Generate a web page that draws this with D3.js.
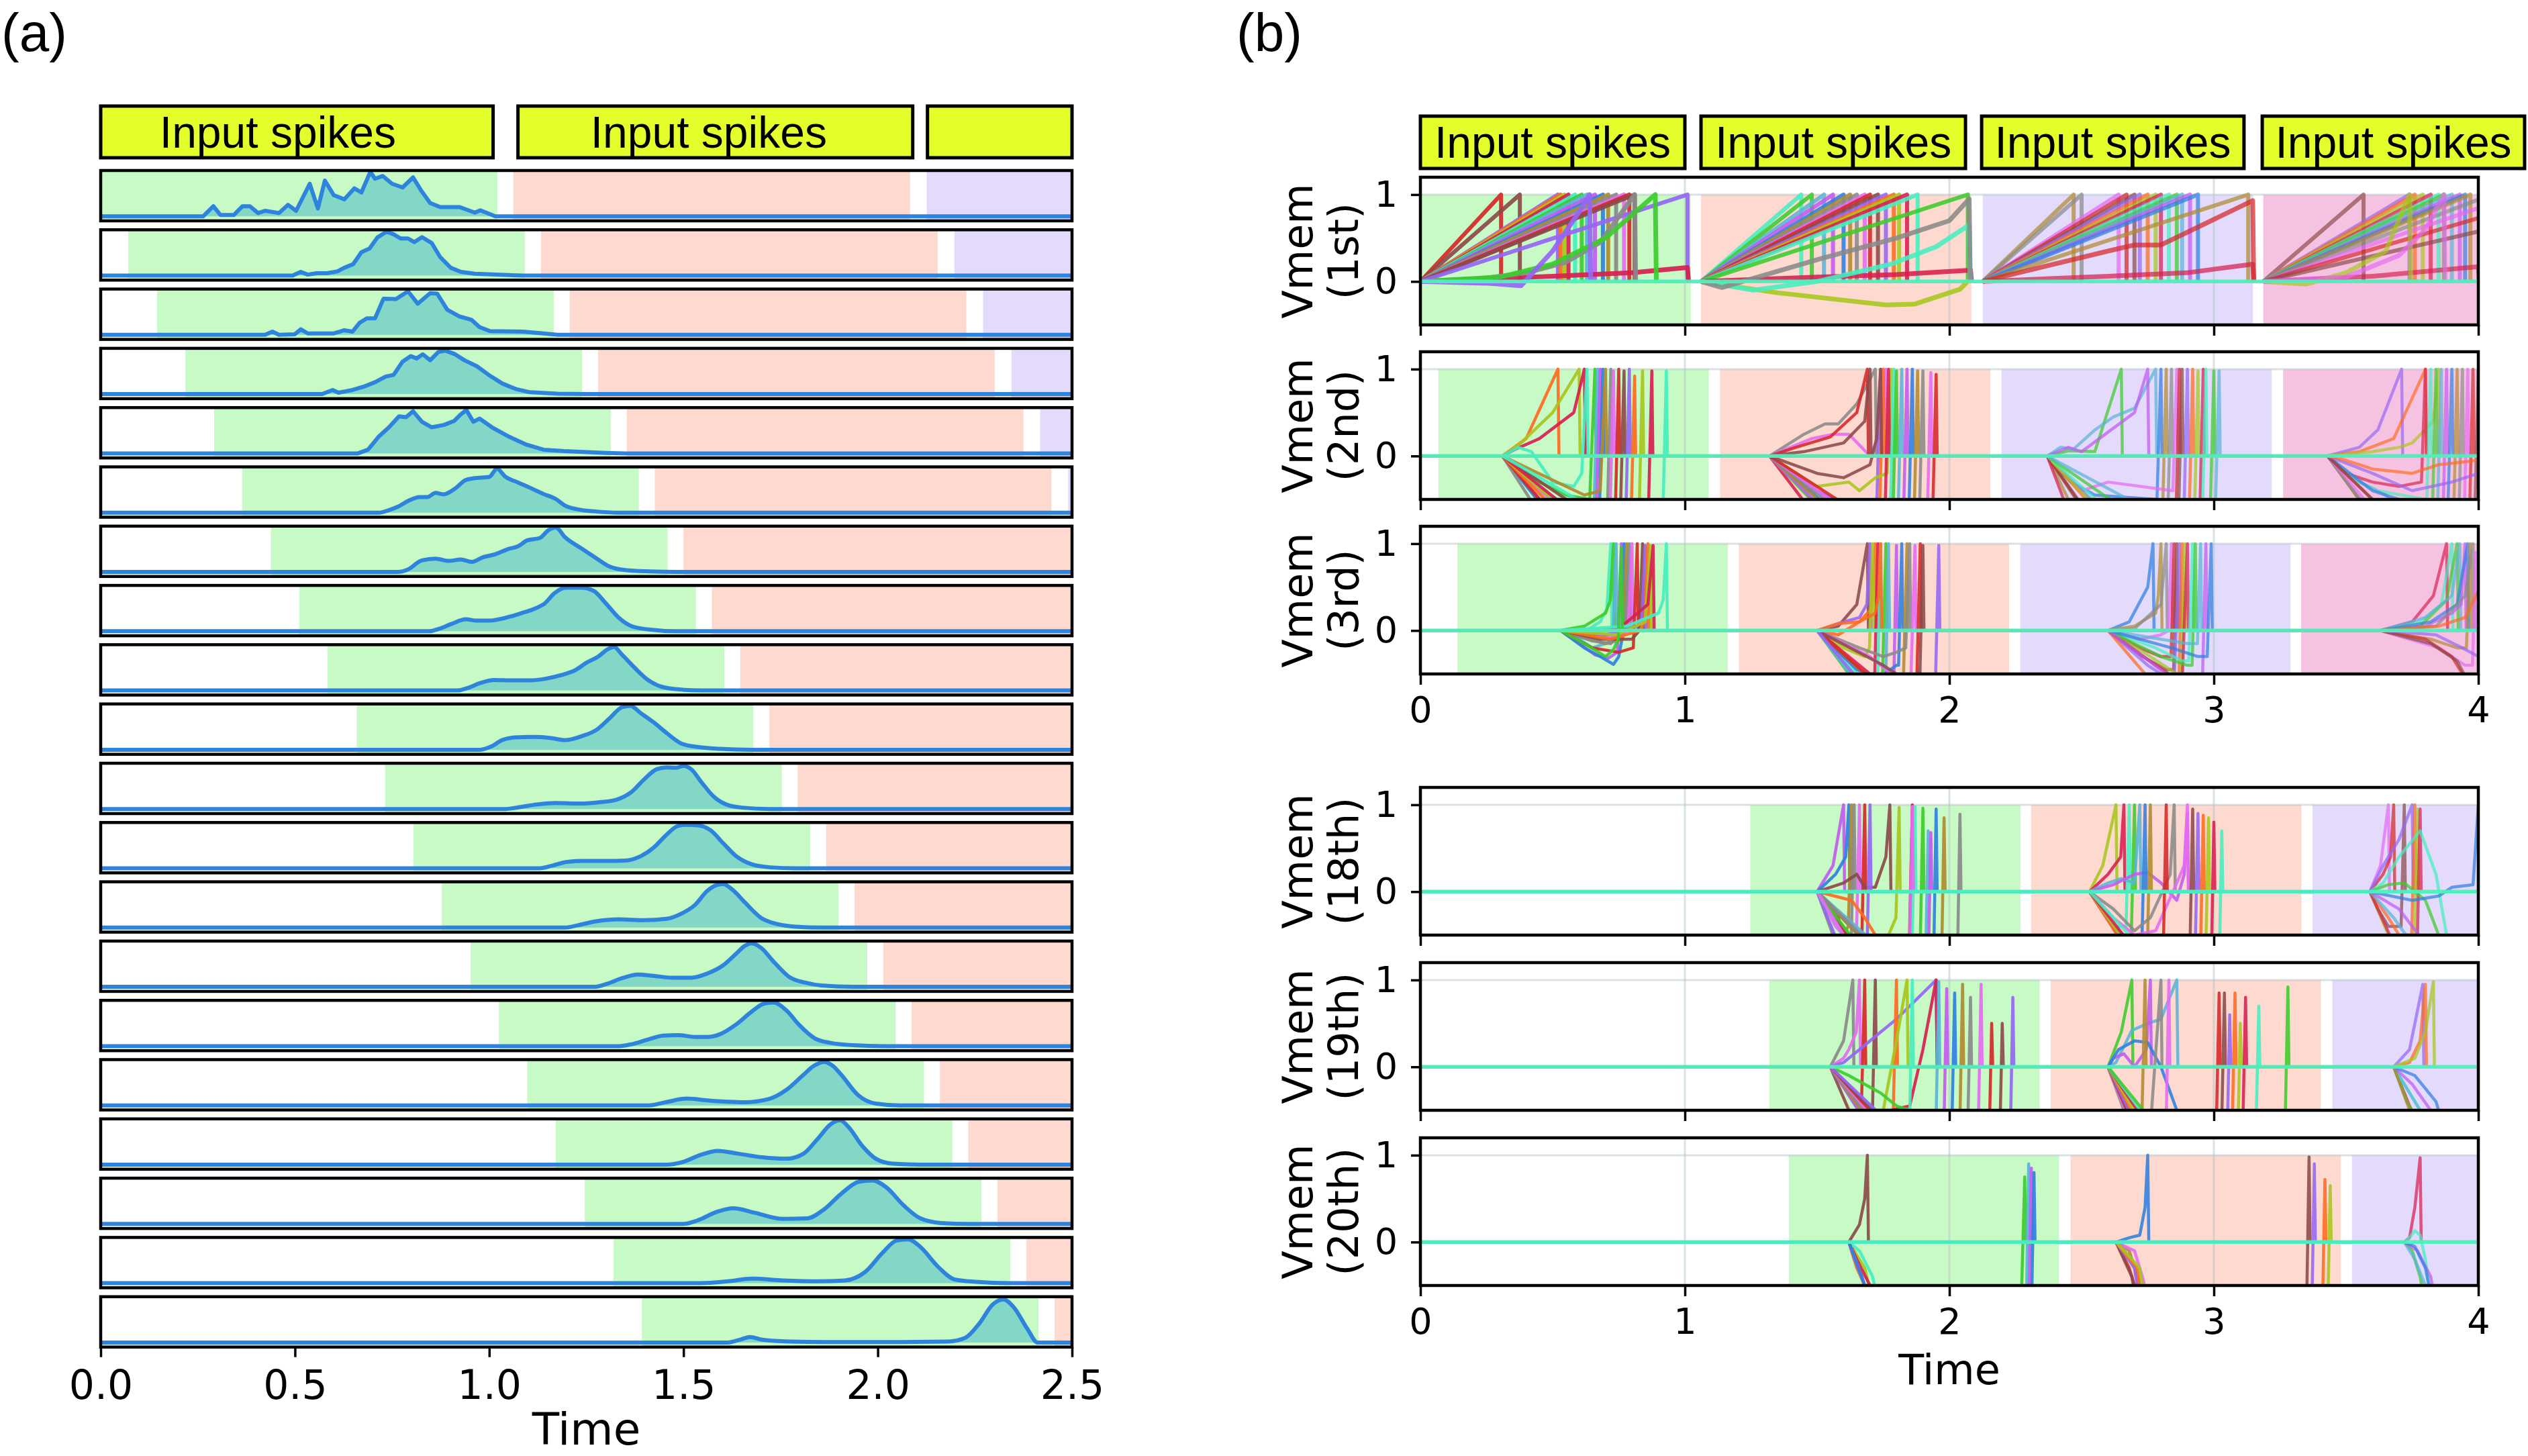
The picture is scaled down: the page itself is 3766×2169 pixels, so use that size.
<!DOCTYPE html>
<html>
<head>
<meta charset="utf-8">
<script src="https://cdn.jsdelivr.net/npm/d3@7"></script>
<style>body{margin:0;background:#fff}</style>
</head>
<body>
<div id="chart"></div>
<script>
// ---------------- data: panel (a) ----------------
const aTicks = [0, 0.5, 1.0, 1.5, 2.0, 2.5];
// start of the green input window for each of the 20 layers
const aGreenStarts = [0, 0.071, 0.145, 0.218, 0.292, 0.364, 0.438, 0.511, 0.584, 0.659,
  0.732, 0.805, 0.878, 0.952, 1.025, 1.098, 1.171, 1.246, 1.32, 1.393];
const aPhaseOffsets = [0, 1.062, 2.126];
const aPhaseWidth = 1.021;
const aBoxes = [[0, 1.01], [1.074, 2.09], [2.128, 2.5]];
const aBoxLabelX = [0.456, 1.565];

// spike-time densities, flat lists of (time, relative height)
const densityRows = [
  [0.264,0, 0.29,0.22, 0.308,0.03, 0.343,0.03, 0.365,0.22, 0.384,0.22, 0.405,0.07, 0.423,0.12, 0.459,0.07, 0.482,0.25, 0.503,0.12, 0.538,0.71, 0.559,0.17, 0.577,0.78, 0.6,0.46, 0.627,0.37, 0.653,0.61, 0.671,0.52, 0.694,0.97, 0.706,0.82, 0.726,0.88, 0.75,0.71, 0.777,0.63, 0.804,0.85, 0.825,0.56, 0.848,0.29, 0.874,0.2, 0.924,0.2, 0.963,0.08, 0.977,0.13, 1.016,0],
  [0.494,0, 0.515,0.08, 0.533,0.02, 0.556,0.05, 0.582,0.05, 0.609,0.09, 0.627,0.17, 0.65,0.25, 0.671,0.51, 0.692,0.59, 0.712,0.83, 0.736,0.96, 0.754,0.9, 0.772,0.81, 0.791,0.81, 0.807,0.73, 0.827,0.84, 0.852,0.71, 0.874,0.4, 0.901,0.17, 0.927,0.08, 0.963,0.04, 1.016,0.02, 1.087,0],
  [0.423,0, 0.442,0.07, 0.459,0, 0.499,0.01, 0.515,0.12, 0.533,0.03, 0.6,0.03, 0.627,0.1, 0.648,0.07, 0.666,0.26, 0.685,0.36, 0.706,0.36, 0.728,0.79, 0.76,0.78, 0.791,0.95, 0.816,0.68, 0.848,0.91, 0.866,0.9, 0.892,0.55, 0.924,0.4, 0.954,0.33, 0.975,0.17, 1.002,0.08, 1.087,0.07, 1.14,0.03, 1.176,0],
  [0.57,0, 0.597,0.09, 0.612,0.03, 0.648,0.09, 0.676,0.16, 0.706,0.26, 0.733,0.38, 0.754,0.42, 0.777,0.71, 0.798,0.83, 0.813,0.78, 0.829,0.87, 0.848,0.74, 0.869,0.92, 0.887,0.95, 0.91,0.88, 0.936,0.74, 0.968,0.61, 1.002,0.4, 1.034,0.23, 1.069,0.11, 1.105,0.04, 1.176,0.01, 1.246,0],
  [0.662,0, 0.688,0.08, 0.715,0.36, 0.742,0.57, 0.768,0.81, 0.786,0.79, 0.804,0.92, 0.827,0.69, 0.852,0.57, 0.883,0.62, 0.91,0.71, 0.924,0.83, 0.941,0.95, 0.959,0.69, 0.975,0.76, 1.007,0.57, 1.052,0.36, 1.096,0.19, 1.14,0.08, 1.193,0.05, 1.3,0.01, 1.35,0],
  [0.716,0, 0.74,0.05, 0.765,0.13, 0.792,0.26, 0.821,0.34, 0.841,0.34, 0.862,0.43, 0.882,0.4, 0.911,0.52, 0.939,0.71, 0.96,0.75, 1.0,0.78, 1.02,0.96, 1.041,0.79, 1.074,0.66, 1.106,0.54, 1.139,0.41, 1.171,0.3, 1.196,0.15, 1.228,0.07, 1.269,0.03, 1.334,0],
  [0.765,0, 0.792,0.06, 0.826,0.25, 0.862,0.29, 0.895,0.24, 0.927,0.27, 0.956,0.22, 0.984,0.32, 1.017,0.39, 1.049,0.5, 1.074,0.56, 1.098,0.69, 1.13,0.74, 1.152,0.91, 1.171,0.97, 1.196,0.75, 1.236,0.52, 1.277,0.29, 1.309,0.12, 1.35,0.04, 1.415,0.01, 1.48,0],
  [0.846,0, 0.87,0.05, 0.903,0.16, 0.94,0.26, 0.968,0.23, 1.0,0.23, 1.041,0.29, 1.082,0.39, 1.122,0.51, 1.142,0.6, 1.168,0.83, 1.196,0.95, 1.236,0.95, 1.269,0.88, 1.298,0.63, 1.334,0.29, 1.366,0.11, 1.407,0.04, 1.48,0],
  [0.919,0, 0.943,0.05, 0.976,0.16, 1.012,0.23, 1.057,0.22, 1.106,0.22, 1.147,0.26, 1.187,0.34, 1.223,0.45, 1.249,0.6, 1.282,0.75, 1.305,0.9, 1.321,0.95, 1.342,0.78, 1.374,0.5, 1.407,0.24, 1.44,0.09, 1.48,0.03, 1.545,0],
  [0.976,0, 1.005,0.07, 1.033,0.21, 1.065,0.27, 1.114,0.28, 1.155,0.26, 1.196,0.21, 1.236,0.29, 1.277,0.44, 1.309,0.68, 1.342,0.93, 1.363,0.96, 1.39,0.8, 1.423,0.6, 1.456,0.37, 1.496,0.13, 1.537,0.06, 1.594,0.02, 1.675,0],
  [1.041,0, 1.077,0.04, 1.122,0.1, 1.171,0.13, 1.236,0.12, 1.285,0.15, 1.326,0.2, 1.366,0.37, 1.399,0.65, 1.431,0.87, 1.456,0.91, 1.48,0.9, 1.5,0.94, 1.521,0.86, 1.545,0.6, 1.578,0.27, 1.61,0.1, 1.651,0.03, 1.724,0],
  [1.13,0, 1.163,0.06, 1.2,0.14, 1.244,0.16, 1.301,0.16, 1.35,0.17, 1.391,0.27, 1.423,0.45, 1.456,0.73, 1.484,0.92, 1.505,0.95, 1.537,0.94, 1.57,0.83, 1.602,0.55, 1.635,0.27, 1.675,0.09, 1.724,0.02, 1.789,0],
  [1.196,0, 1.228,0.05, 1.277,0.14, 1.334,0.18, 1.399,0.16, 1.456,0.19, 1.496,0.31, 1.529,0.49, 1.561,0.8, 1.586,0.93, 1.602,0.95, 1.627,0.82, 1.659,0.54, 1.7,0.21, 1.74,0.08, 1.789,0.02, 1.854,0],
  [1.269,0, 1.301,0.06, 1.342,0.19, 1.383,0.27, 1.423,0.24, 1.472,0.2, 1.521,0.2, 1.561,0.29, 1.602,0.47, 1.635,0.72, 1.659,0.9, 1.675,0.95, 1.7,0.85, 1.732,0.55, 1.773,0.21, 1.814,0.09, 1.854,0.03, 1.936,0],
  [1.334,0, 1.366,0.04, 1.407,0.14, 1.448,0.23, 1.488,0.24, 1.529,0.2, 1.561,0.2, 1.594,0.26, 1.635,0.47, 1.675,0.75, 1.708,0.93, 1.732,0.95, 1.765,0.78, 1.797,0.47, 1.838,0.17, 1.879,0.07, 1.936,0.02, 2.017,0],
  [1.41,0, 1.455,0.07, 1.508,0.15, 1.561,0.11, 1.658,0.07, 1.72,0.14, 1.765,0.34, 1.809,0.67, 1.835,0.86, 1.862,0.95, 1.885,0.86, 1.906,0.67, 1.95,0.22, 1.995,0.04, 2.057,0],
  [1.455,0, 1.499,0.06, 1.543,0.21, 1.588,0.3, 1.641,0.24, 1.703,0.16, 1.765,0.13, 1.809,0.24, 1.844,0.55, 1.88,0.89, 1.903,0.97, 1.924,0.83, 1.96,0.41, 1.995,0.13, 2.039,0.02, 2.11,0],
  [1.499,0, 1.534,0.07, 1.588,0.27, 1.628,0.34, 1.685,0.24, 1.756,0.11, 1.818,0.12, 1.862,0.32, 1.906,0.66, 1.951,0.92, 1.986,0.95, 2.022,0.8, 2.066,0.41, 2.11,0.12, 2.163,0.02, 2.234,0],
  [1.543,0, 1.614,0.04, 1.676,0.1, 1.756,0.06, 1.844,0.04, 1.915,0.06, 1.968,0.25, 2.013,0.67, 2.048,0.93, 2.078,0.96, 2.11,0.79, 2.154,0.37, 2.199,0.08, 2.252,0.03, 2.34,0],
  [1.614,0, 1.649,0.07, 1.671,0.12, 1.703,0.06, 1.774,0.02, 1.862,0.01, 2.039,0.01, 2.181,0.02, 2.225,0.1, 2.261,0.41, 2.296,0.83, 2.323,0.94, 2.349,0.78, 2.385,0.3, 2.411,0]
];

// ---------------- data: panel (b) ----------------
const bTicksX = [0, 1, 2, 3, 4];
const bTicksY = [0, 1];
const bLayerNames = ['1st', '2nd', '3rd', '18th', '19th', '20th'];
const bWindowStarts = [
  [0, 1.061, 2.126, 3.187],
  [0.068, 1.133, 2.197, 3.262],
  [0.14, 1.204, 2.268, 3.33],
  [1.247, 2.309, 3.373],
  [1.319, 2.383, 3.448],
  [1.393, 2.458, 3.522]
];
const bWindowWidth = 1.022;
const bBoxes = [[0, 1.0], [1.061, 2.061], [2.122, 3.114], [3.183, 4.175]];

// 1st layer: linear ramps from the window start up to each spike time
const layer1Spikes = [
  [0.305, 0.376, 0.52, 0.53, 0.545, 0.56, 0.585, 0.61, 0.63, 0.66, 0.69, 0.71, 0.74, 0.77, 0.79, 0.81, 1.01],
  [1.44, 1.48, 1.526, 1.56, 1.6, 1.625, 1.65, 1.68, 1.7, 1.73, 1.76, 1.79, 1.81, 1.84, 1.88, 2.07],
  [2.47, 2.5, 2.64, 2.67, 2.7, 2.72, 2.75, 2.78, 2.8, 2.83, 2.86, 2.88, 2.91, 2.94, 3.13],
  [3.566, 3.74, 3.76, 3.79, 3.82, 3.85, 3.87, 3.9, 3.93, 3.95, 3.97, 4.05, 4.15, 4.3, 4.6]
];
// 1st layer: traces that are not straight ramps (time, value)
const layer1Curves = [
  [0,0, 0.5,0.06, 0.8,0.1, 1.01,0.16],
  [0,0, 0.2,0.02, 0.4,0.1, 0.55,0.22, 0.68,0.45, 0.81,1],
  [0,0, 0.3,0.05, 0.5,0.2, 0.7,0.5, 0.888,1],
  [0,0, 0.25,-0.02, 0.38,-0.05, 0.5,0.35, 0.6,0.8, 0.64,1],
  [1.061,0, 1.5,0.05, 1.8,0.08, 2.08,0.13],
  [1.061,0, 1.35,-0.13, 1.76,-0.27, 1.87,-0.26, 2.04,-0.09, 2.075,0.02],
  [1.061,0, 1.26,-0.1, 1.5,0.0, 1.78,0.2, 1.95,0.4, 2.075,0.65],
  [1.061,0, 1.14,-0.07, 1.5,0.25, 1.8,0.5, 2.0,0.7, 2.075,0.95],
  [2.126,0, 2.6,0.06, 2.9,0.1, 3.147,0.2],
  [2.126,0, 2.6,0.35, 2.7,0.42, 2.8,0.42, 3.147,0.93],
  [3.187,0, 3.6,0.06, 4.0,0.17],
  [3.187,0, 3.35,-0.03, 3.5,0.1, 3.65,0.35, 3.74,1],
  [3.187,0, 3.5,0.05, 3.7,0.3, 3.8,0.6, 3.87,1]
];

// deeper layers: per window, the time the membrane leaves 0, then (time, value) lists
const onsets2nd = [0.31, 1.32, 2.37, 3.43];
const traces2nd = [
  [[0.4,0.2, 0.52,1], [0.38,0.15, 0.5,0.5, 0.6,1], [0.36,0.08, 0.45,0.2, 0.58,0.5, 0.62,1],
   [0.37,0.1, 0.42,0.05, 0.5,-0.3, 0.58,-0.35, 0.61,-0.2, 0.63,1], [0.45,-0.3, 0.55,-0.45, 0.64,-0.5, 0.66,1],
   [0.5,-0.7, 0.655,-0.8, 0.67,1], [0.48,-0.6, 0.665,-0.7, 0.68,1], [0.52,-0.8, 0.675,-0.9, 0.69,1],
   [0.55,-0.35, 0.62,-0.45, 0.68,-0.4, 0.7,1], [0.5,-0.9, 0.705,-0.9, 0.72,1], [0.58,-0.75, 0.715,-0.9, 0.73,0.98],
   [0.55,-0.85, 0.735,-0.9, 0.75,1], [0.6,-0.6, 0.755,-0.8, 0.77,0.98], [0.62,-0.8, 0.775,-0.9, 0.79,1],
   [0.6,-0.9, 0.795,-0.9, 0.81,0.92], [0.65,-0.9, 0.825,-0.9, 0.84,0.98], [0.7,-0.95, 0.86,-0.9, 0.875,0.98],
   [0.82,-0.9, 0.915,-0.9, 0.93,0.98]],
  [[1.45,0.25, 1.53,0.37, 1.58,0.37, 1.65,0.6, 1.72,1], [1.48,0.2, 1.56,0.25, 1.62,0.25, 1.7,0.0, 1.745,0.3, 1.76,1],
   [1.42,0.1, 1.55,0.22, 1.65,0.5, 1.69,1], [1.45,0.05, 1.6,0.15, 1.68,0.4, 1.7,1], [1.5,-0.4, 1.6,-0.55, 1.725,-0.6, 1.74,1],
   [1.55,-0.6, 1.735,-0.8, 1.75,1], [1.5,-0.35, 1.62,-0.3, 1.66,-0.4, 1.72,-0.25, 1.765,-0.2, 1.78,1],
   [1.52,-0.8, 1.755,-0.9, 1.77,1], [1.55,-0.7, 1.775,-0.9, 1.79,1], [1.6,-0.9, 1.785,-0.9, 1.8,0.98],
   [1.56,-0.6, 1.805,-0.8, 1.82,1], [1.6,-0.85, 1.825,-0.9, 1.84,1], [1.62,-0.8, 1.845,-0.9, 1.86,1],
   [1.65,-0.9, 1.865,-0.9, 1.88,0.98], [1.7,-0.9, 1.885,-0.9, 1.9,0.98], [1.75,-0.95, 1.915,-0.9, 1.93,0.96],
   [1.78,-0.9, 1.935,-0.9, 1.95,0.94], [1.5,-0.2, 1.6,-0.25, 1.7,-0.1, 1.725,0.2, 1.74,1]],
  [[2.45,0.06, 2.55,0.05, 2.65,1], [2.42,0.1, 2.47,0.08, 2.55,0.3, 2.62,0.45, 2.7,0.55, 2.78,1], [2.45,0.1, 2.5,0.05, 2.7,0.5, 2.75,1],
   [2.46,-0.3, 2.55,-0.45, 2.785,-0.5, 2.8,1], [2.45,-0.5, 2.58,-0.7, 2.805,-0.8, 2.82,1], [2.5,-0.6, 2.825,-0.8, 2.84,1],
   [2.5,-0.4, 2.6,-0.3, 2.845,-0.4, 2.86,1], [2.55,-0.8, 2.855,-0.9, 2.87,1], [2.58,-0.9, 2.865,-0.9, 2.88,1],
   [2.6,-0.7, 2.885,-0.9, 2.9,1], [2.62,-0.85, 2.905,-0.9, 2.92,1], [2.65,-0.9, 2.925,-0.9, 2.94,0.98],
   [2.42,-0.4, 2.48,-0.9, 2.945,-0.9, 2.96,1], [2.7,-0.9, 2.955,-0.9, 2.97,1], [2.75,-0.8, 2.985,-0.8, 3.0,0.98],
   [2.8,-0.7, 3.005,-0.7, 3.02,0.98]],
  [[3.55,0.1, 3.62,0.3, 3.71,1], [3.55,0.05, 3.68,0.2, 3.8,1], [3.5,0.02, 3.6,0.05, 3.7,0.1, 3.75,0.15, 3.83,0.4, 3.85,1],
   [3.5,-0.2, 3.6,-0.3, 3.7,-0.35, 3.785,-0.3, 3.8,1], [3.52,-0.25, 3.62,-0.4, 3.805,-0.5, 3.82,1],
   [3.55,-0.5, 3.68,-0.7, 3.825,-0.8, 3.84,1], [3.55,-0.3, 3.65,-0.45, 3.7,-0.6, 3.845,-0.7, 3.86,1],
   [3.6,-0.7, 3.865,-0.9, 3.88,1], [3.6,-0.4, 3.7,-0.5, 3.885,-0.6, 3.9,1], [3.62,-0.8, 3.905,-0.9, 3.92,1],
   [3.65,-0.9, 3.925,-0.9, 3.94,1], [3.68,-0.9, 3.945,-0.9, 3.96,1], [3.7,-0.8, 3.965,-0.9, 3.98,1],
   [3.72,-0.85, 3.985,-0.9, 4.0,1], [3.6,-0.2, 3.75,-0.4, 3.9,-0.3, 4.0,-0.2], [3.5,-0.05, 3.6,-0.15, 3.75,-0.2, 3.85,-0.1, 4.0,-0.05]]
];

const onsets3rd = [0.53, 1.5, 2.6, 3.63];
const traces3rd = [
  [[0.6,-0.05, 0.68,0.1, 0.705,0.25, 0.72,1], [0.62,0.05, 0.7,0.2, 0.718,0.35, 0.73,1],
   [0.6,-0.1, 0.65,-0.2, 0.7,-0.15, 0.728,-0.1, 0.74,1], [0.6,-0.15, 0.66,-0.28, 0.71,-0.32, 0.745,-0.25, 0.76,1],
   [0.62,-0.2, 0.68,-0.3, 0.73,-0.39, 0.75,-0.3, 0.762,-0.1, 0.77,1], [0.64,-0.1, 0.7,-0.15, 0.765,-0.1, 0.78,1],
   [0.65,-0.12, 0.72,-0.15, 0.75,-0.05, 0.775,0.1, 0.79,1], [0.66,-0.05, 0.73,-0.08, 0.785,0, 0.8,1],
   [0.65,-0.2, 0.75,-0.25, 0.805,-0.2, 0.82,1], [0.68,-0.1, 0.8,-0.1, 0.828,0, 0.84,1],
   [0.7,-0.05, 0.82,0.05, 0.838,0.15, 0.85,0.98], [0.72,-0.1, 0.83,0, 0.848,0.1, 0.86,1],
   [0.74,-0.05, 0.85,0.1, 0.87,0.98], [0.75,0.02, 0.86,0.3, 0.88,0.98], [0.78,0.05, 0.9,0.2, 0.918,0.35, 0.93,1],
   [0.62,-0.15, 0.7,-0.3, 0.73,-0.22, 0.748,-0.1, 0.76,0.95]],
  [[1.58,0.05, 1.65,0.3, 1.69,1], [1.6,0.1, 1.66,0.15, 1.688,0.3, 1.7,1], [1.58,-0.05, 1.66,0.1, 1.705,0.25, 1.72,1],
   [1.6,-0.2, 1.68,-0.3, 1.698,-0.2, 1.71,1], [1.62,-0.3, 1.7,-0.5, 1.718,-0.5, 1.73,1], [1.62,-0.4, 1.72,-0.7, 1.728,-0.7, 1.74,1],
   [1.62,-0.5, 1.7,-0.8, 1.745,-0.8, 1.76,1], [1.65,-0.6, 1.75,-0.8, 1.758,-0.8, 1.77,1],
   [1.6,-0.3, 1.72,-0.6, 1.78,-0.9, 1.788,-0.9, 1.8,0.98], [1.65,-0.45, 1.73,-0.55, 1.8,-0.4, 1.808,-0.4, 1.82,1],
   [1.68,-0.5, 1.78,-0.7, 1.825,-0.7, 1.84,1], [1.66,-0.2, 1.75,-0.3, 1.8,-0.25, 1.835,-0.2, 1.85,1],
   [1.7,-0.3, 1.78,-0.5, 1.855,-0.5, 1.87,0.98], [1.72,-0.6, 1.8,-0.8, 1.875,-0.8, 1.89,1],
   [1.75,-0.4, 1.85,-0.6, 1.888,-0.6, 1.9,0.98], [1.72,-0.8, 1.85,-0.9, 1.945,-0.9, 1.96,0.98],
   [1.58,0.08, 1.66,0.1, 1.72,0.2, 1.732,0.4, 1.74,1]],
  [[2.68,0.1, 2.75,0.5, 2.77,1], [2.7,0.05, 2.78,0.2, 2.79,0.4, 2.8,1], [2.7,0.02, 2.8,0.3, 2.82,1],
   [2.72,-0.1, 2.8,-0.05, 2.828,0, 2.84,1], [2.72,-0.2, 2.8,-0.3, 2.838,-0.3, 2.85,1], [2.73,-0.3, 2.82,-0.45, 2.848,-0.45, 2.86,1],
   [2.75,-0.4, 2.85,-0.6, 2.87,1], [2.74,-0.5, 2.84,-0.8, 2.866,-0.8, 2.88,1], [2.76,-0.3, 2.86,-0.5, 2.878,-0.5, 2.89,1],
   [2.78,-0.4, 2.88,-0.6, 2.9,1], [2.78,-0.2, 2.88,-0.35, 2.905,-0.35, 2.92,1], [2.8,-0.3, 2.9,-0.4, 2.918,-0.4, 2.93,1],
   [2.8,-0.1, 2.9,-0.15, 2.938,-0.15, 2.95,1], [2.82,-0.5, 2.92,-0.8, 2.955,-0.8, 2.97,1], [2.84,-0.2, 2.94,-0.3, 2.975,-0.3, 2.99,1]],
  [[3.75,0.1, 3.83,0.4, 3.88,1], [3.78,0.1, 3.86,0.3, 3.9,1], [3.78,0.05, 3.88,0.35, 3.92,1], [3.8,0.15, 3.9,0.4, 3.93,1],
   [3.8,0.05, 3.9,0.2, 3.935,0.3, 3.95,1], [3.82,0.1, 3.92,0.3, 3.96,1], [3.82,-0.1, 3.92,-0.2, 3.955,-0.2, 3.97,1],
   [3.84,0.05, 3.95,0.4, 3.98,1], [3.85,-0.2, 3.95,-0.4, 3.978,-0.4, 3.99,0.9], [3.8,-0.1, 3.9,-0.3, 3.96,-0.6, 4.0,-0.8],
   [3.82,-0.15, 3.92,-0.35, 3.98,-0.7, 4.02,-0.9], [3.84,-0.05, 3.94,-0.2, 4.0,-0.3], [3.85,0.05, 3.95,0.15, 4.0,0.45]]
];

const onsets18th = [1.5, 2.53, 3.59];
const traces18th = [
  [[1.56,0.3, 1.6,1], [1.57,0.2, 1.608,0.4, 1.62,1], [1.56,-0.3, 1.6,-0.5, 1.618,-0.4, 1.63,1], [1.56,-0.5, 1.62,-0.7, 1.628,-0.7, 1.64,1],
   [1.57,-0.4, 1.63,-0.6, 1.648,-0.6, 1.66,1], [1.58,-0.3, 1.62,-0.7, 1.668,-0.7, 1.68,1],
   [1.6,0.1, 1.65,0.2, 1.68,0.05, 1.72,0.05, 1.76,0.4, 1.775,1], [1.58,-0.6, 1.68,-0.8, 1.688,-0.8, 1.7,1],
   [1.63,-0.1, 1.68,-0.3, 1.72,-0.5], [1.62,-0.5, 1.72,-0.7, 1.77,-0.5, 1.798,-0.3, 1.81,0.97],
   [1.64,-0.6, 1.78,-0.7, 1.848,-0.7, 1.86,1], [1.66,-0.8, 1.8,-0.8, 1.858,-0.8, 1.87,0.98],
   [1.7,-0.8, 1.85,-0.9, 1.888,-0.9, 1.9,0.96], [1.72,-0.6, 1.88,-0.8, 1.91,-0.8, 1.92,0.7],
   [1.72,-0.7, 1.9,-0.9, 1.92,-0.9, 1.93,0.68], [1.75,-0.8, 1.92,-0.9, 1.94,-0.9, 1.95,0.95],
   [1.78,-0.9, 1.95,-0.9, 1.97,-0.9, 1.98,0.85], [1.8,-0.9, 2.0,-0.9, 2.03,-0.9, 2.04,0.89],
   [1.6,-0.5, 1.7,-0.9, 1.848,-0.9, 1.86,0.98]],
  [[2.58,0.3, 2.63,1], [2.6,0.2, 2.648,0.4, 2.66,1], [2.58,-0.2, 2.62,-0.4, 2.668,-0.4, 2.68,1], [2.6,-0.3, 2.65,-0.5, 2.688,-0.5, 2.7,1],
   [2.6,0.1, 2.65,0.15, 2.7,0.1, 2.72,1], [2.62,0.08, 2.7,0.2, 2.75,0.22, 2.8,0.1, 2.86,-0.1, 2.888,0.2, 2.9,0.9],
   [2.62,-0.4, 2.7,-0.6, 2.728,-0.6, 2.74,1], [2.64,-0.5, 2.72,-0.8, 2.748,-0.8, 2.76,1],
   [2.62,-0.2, 2.7,-0.45, 2.76,-0.3, 2.835,0.2, 2.85,1], [2.62,-0.3, 2.7,-0.5, 2.78,-0.45, 2.86,0.1, 2.888,0.3, 2.9,1],
   [2.66,-0.6, 2.76,-0.8, 2.808,-0.8, 2.82,1], [2.68,-0.7, 2.82,-0.9, 2.908,-0.9, 2.92,0.95],
   [2.7,-0.8, 2.85,-0.9, 2.928,-0.9, 2.94,0.9], [2.72,-0.9, 2.9,-0.9, 2.948,-0.9, 2.96,0.88],
   [2.74,-0.9, 2.95,-0.9, 2.968,-0.9, 2.98,0.85], [2.76,-0.9, 2.98,-0.9, 2.99,-0.9, 3.0,0.8],
   [2.8,-0.9, 3.0,-0.9, 3.02,-0.9, 3.03,0.7]],
  [[3.63,0.3, 3.66,1], [3.64,0.2, 3.668,0.4, 3.68,1], [3.62,-0.2, 3.66,-0.4, 3.708,-0.4, 3.72,1], [3.64,0.3, 3.7,0.6, 3.75,1],
   [3.66,-0.3, 3.7,-0.5, 3.748,-0.5, 3.76,1], [3.66,-0.5, 3.72,-0.7, 3.758,-0.7, 3.77,0.95], [3.68,-0.6, 3.74,-0.8, 3.768,-0.8, 3.78,0.95],
   [3.64,0.1, 3.7,0.4, 3.78,0.7, 3.84,0.2, 3.88,-0.5], [3.66,0.08, 3.72,0.1, 3.8,-0.1, 3.85,-0.5],
   [3.68,-0.3, 3.75,-0.6, 3.8,-0.9], [3.7,-0.2, 3.8,-0.6, 3.84,-0.9], [3.75,-0.1, 3.85,-0.05, 3.9,0.05, 3.98,0.08, 4.0,1]]
];

const onsets19th = [1.55, 2.6, 3.68];
const traces19th = [
  [[1.6,0.3, 1.635,1], [1.6,0.1, 1.62,0.2, 1.648,0.4, 1.66,1], [1.6,-0.2, 1.64,-0.4, 1.668,-0.4, 1.68,1],
   [1.62,-0.5, 1.68,-0.7, 1.708,-0.7, 1.72,1], [1.6,0.05, 1.66,0.2, 1.72,0.35, 1.8,0.55, 1.9,0.85, 1.95,1],
   [1.62,-0.3, 1.68,-0.5, 1.72,-0.55, 1.78,-0.6, 1.788,-0.5, 1.8,1], [1.64,-0.4, 1.72,-0.7, 1.75,-0.5, 1.8,0.3, 1.84,1],
   [1.66,-0.5, 1.78,-0.5, 1.85,-0.45, 1.9,0.2, 1.95,1], [1.68,-0.6, 1.82,-0.9, 1.848,-0.9, 1.86,1],
   [1.62,-0.1, 1.68,-0.2, 1.74,-0.3, 1.8,-0.45, 1.85,-0.5], [1.7,-0.7, 1.88,-0.9, 1.948,-0.9, 1.96,0.98],
   [1.72,-0.8, 1.92,-0.9, 1.978,-0.9, 1.99,0.9], [1.74,-0.8, 1.95,-0.9, 2.008,-0.9, 2.02,0.85],
   [1.76,-0.9, 2.0,-0.9, 2.038,-0.9, 2.05,0.95], [1.78,-0.9, 2.03,-0.9, 2.068,-0.9, 2.08,0.8],
   [1.8,-0.9, 2.06,-0.9, 2.108,-0.9, 2.12,0.95], [1.82,-0.9, 2.1,-0.9, 2.15,-0.9, 2.16,0.5],
   [1.84,-0.9, 2.15,-0.9, 2.19,-0.9, 2.2,0.5], [1.86,-0.9, 2.2,-0.9, 2.23,-0.9, 2.24,0.8]],
  [[2.65,0.4, 2.69,1], [2.63,0.05, 2.69,0.42, 2.75,0.5, 2.8,0.55, 2.86,1], [2.62,0.1, 2.66,0.15, 2.7,0.0, 2.745,0.2, 2.76,1],
   [2.64,0.2, 2.7,0.3, 2.75,0.28, 2.8,0.0, 2.86,-0.5], [2.64,-0.3, 2.7,-0.6, 2.728,-0.6, 2.74,1], [2.66,-0.5, 2.72,-0.8, 2.76,-0.7, 2.8,1],
   [2.68,-0.6, 2.76,-0.9, 2.818,-0.9, 2.83,1], [2.7,-0.7, 2.9,-0.9, 3.008,-0.9, 3.02,0.85], [2.72,-0.8, 2.95,-0.9, 3.028,-0.9, 3.04,0.85],
   [2.74,-0.9, 3.0,-0.9, 3.05,-0.9, 3.06,0.6], [2.76,-0.9, 3.02,-0.9, 3.068,-0.9, 3.08,0.85], [2.78,-0.9, 3.05,-0.9, 3.09,-0.9, 3.1,0.5],
   [2.8,-0.9, 3.08,-0.9, 3.108,-0.9, 3.12,0.8], [2.82,-0.9, 3.12,-0.9, 3.158,-0.9, 3.17,0.7], [2.84,-0.9, 3.24,-0.9, 3.268,-0.9, 3.28,0.92]],
  [[3.74,0.2, 3.79,0.95], [3.74,0.05, 3.78,0.3, 3.8,0.95], [3.76,0.1, 3.8,0.4, 3.83,0.98], [3.72,-0.3, 3.76,-0.6, 3.8,-0.9],
   [3.72,-0.2, 3.78,-0.5, 3.82,-0.9], [3.73,-0.4, 3.79,-0.7, 3.83,-0.9], [3.74,-0.3, 3.8,-0.6, 3.85,-0.9], [3.75,-0.2, 3.82,-0.5, 3.86,-0.9],
   [3.76,-0.1, 3.84,-0.4, 3.88,-0.8], [3.74,-0.5, 3.78,-0.9]]
];

const onsets20th = [1.62, 2.63, 3.72];
const traces20th = [
  [[1.66,0.2, 1.68,0.5, 1.69,1], [1.64,-0.2, 1.67,-0.4, 1.7,-0.8], [1.65,-0.3, 1.68,-0.5, 1.71,-0.8], [1.64,-0.1, 1.68,-0.3, 1.72,-0.8],
   [1.65,-0.2, 1.7,-0.5, 1.73,-0.8], [1.66,-0.1, 1.71,-0.4, 1.74,-0.8],
   [1.68,-0.5, 1.72,-0.9, 2.27,-0.9, 2.285,0.75], [1.68,-0.5, 1.72,-0.9, 2.29,-0.9, 2.3,0.9], [1.68,-0.5, 1.72,-0.9, 2.3,-0.9, 2.31,0.85],
   [1.68,-0.5, 1.72,-0.9, 2.31,-0.9, 2.32,0.8]],
  [[2.68,0.05, 2.72,0.08, 2.74,0.4, 2.75,1], [2.68,-0.1, 2.71,-0.4, 2.73,-0.8], [2.69,-0.2, 2.72,-0.5, 2.74,-0.8], [2.7,-0.1, 2.73,-0.4, 2.76,-0.8],
   [2.68,-0.3, 2.71,-0.6, 2.72,-0.9], [2.69,-0.4, 2.72,-0.9, 3.35,-0.9, 3.36,0.98], [2.7,-0.3, 2.73,-0.9, 3.37,-0.9, 3.38,0.9],
   [2.71,-0.3, 2.74,-0.9, 3.41,-0.9, 3.42,0.72], [2.72,-0.3, 2.75,-0.9, 3.43,-0.9, 3.44,0.65]],
  [[3.74,0.05, 3.76,0.4, 3.78,0.97], [3.74,0.05, 3.76,0.13, 3.78,0.08, 3.8,-0.2, 3.83,-0.9], [3.75,-0.1, 3.78,-0.4, 3.81,-0.9],
   [3.76,-0.2, 3.8,-0.5, 3.83,-0.9], [3.77,-0.1, 3.82,-0.4, 3.85,-0.9], [3.76,-0.05, 3.8,-0.3, 3.84,-0.9]]
];

// ---------------- styles ----------------
const phaseColors = ['#c8fac5', '#fdd9cf', '#e3dafc', '#f5c3e1'];
const traceColors = ['#d62728', '#ff6a1f', '#44eec0', '#c25af0', '#8a8a8a', '#8c4a4a', '#a8c61c',
  '#3ccc2c', '#2f80e0', '#e66af2', '#9566f5', '#d81e50', '#5ab4d8', '#b08a30'];
const periodOpacity = [0.92, 0.88, 0.72, 0.68];
const yellow = '#e4fe2c';
const sansFont = '"DejaVu Sans", sans-serif';
const arialFont = '"Liberation Sans", Arial, sans-serif';

const W = 3766, H = 2169;
const svg = d3.select('#chart').append('svg')
  .attr('width', W)
  .attr('height', H)
  .style('font-family', sansFont);
svg.append('rect').attr('width', W).attr('height', H).attr('fill', '#fff');
const defs = svg.append('defs');

const pairs = arr => d3.range(0, arr.length, 2).map(j => [arr[j], arr[j + 1]]);

// panel letters
svg.append('text').attr('x', 2).attr('y', 76)
  .style('font-family', arialFont).attr('font-size', 80).text('(a)');
svg.append('text').attr('x', 1842).attr('y', 76)
  .style('font-family', arialFont).attr('font-size', 80).text('(b)');

// yellow "Input spikes" boxes
function drawBoxes(xs, boxes, labelXs, y0, y1) {
  boxes.forEach((b, i) => {
    svg.append('rect')
      .attr('x', xs(b[0])).attr('y', y0)
      .attr('width', xs(b[1]) - xs(b[0])).attr('height', y1 - y0)
      .attr('fill', yellow).attr('stroke', '#000').attr('stroke-width', 5);
    if (labelXs[i] !== undefined) {
      svg.append('text')
        .attr('x', xs(labelXs[i])).attr('y', (y0 + y1) / 2 + 23)
        .attr('text-anchor', 'middle')
        .style('font-family', arialFont).attr('font-size', 66)
        .text('Input spikes');
    }
  });
}

// ================= panel (a) =================
const ax = d3.scaleLinear().domain([0, 2.5]).range([150, 1597]);
const rowTop0 = 254, rowStep = 88.3, rowH = 75;

drawBoxes(ax, aBoxes, aBoxLabelX, 158, 235);

aGreenStarts.forEach((g0, i) => {
  const top = rowTop0 + i * rowStep;
  const ay = d3.scaleLinear().domain([-0.1, 1.0]).range([top + rowH, top]);
  const clipId = 'clipA' + i;
  defs.append('clipPath').attr('id', clipId).append('rect')
    .attr('x', ax(0)).attr('y', top).attr('width', ax(2.5) - ax(0)).attr('height', rowH);
  const gr = svg.append('g').attr('clip-path', `url(#${clipId})`);

  aPhaseOffsets.forEach((off, k) => {
    gr.append('rect')
      .attr('x', ax(g0 + off)).attr('y', top)
      .attr('width', ax(g0 + off + aPhaseWidth) - ax(g0 + off)).attr('height', rowH)
      .attr('fill', phaseColors[k]);
  });

  const pts = [[0, 0]].concat(pairs(densityRows[i])).concat([[2.5, 0]]);
  const curve = i < 5 ? d3.curveLinear : d3.curveMonotoneX;
  gr.append('path').datum(pts)
    .attr('d', d3.area().x(d => ax(d[0])).y0(ay(0)).y1(d => ay(d[1])).curve(curve))
    .attr('fill', '#83d7c6');
  gr.append('path').datum(pts)
    .attr('d', d3.line().x(d => ax(d[0])).y(d => ay(d[1])).curve(curve))
    .attr('fill', 'none').attr('stroke', '#2e84dc').attr('stroke-width', 6)
    .attr('stroke-linejoin', 'round');

  svg.append('rect')
    .attr('x', ax(0)).attr('y', top).attr('width', ax(2.5) - ax(0)).attr('height', rowH)
    .attr('fill', 'none').attr('stroke', '#000').attr('stroke-width', 4.5);

  if (i === aGreenStarts.length - 1) {
    const xAxis = svg.append('g')
      .attr('transform', `translate(0,${top + rowH})`)
      .call(d3.axisBottom(ax).tickValues(aTicks).tickFormat(d3.format('.1f')).tickSize(15).tickPadding(20));
    xAxis.select('.domain').remove();
    xAxis.selectAll('line').attr('stroke', '#000').attr('stroke-width', 3.5);
    xAxis.selectAll('text').attr('font-size', 60).style('font-family', sansFont).attr('fill', '#000');
  }
});

svg.append('text')
  .attr('x', (ax(0) + ax(2.5)) / 2).attr('y', 2152)
  .attr('text-anchor', 'middle').attr('font-size', 66).text('Time');

// ================= panel (b) =================
const bx = d3.scaleLinear().domain([0, 4]).range([2116, 3692]);
const bTops = [264, 524, 784, 1173, 1434, 1695];
const bH = 220;

drawBoxes(bx, bBoxes, bBoxes.map(b => (b[0] + b[1]) / 2), 173, 251);

function tracesFrom(onsets, traces) {
  // point lists: flat at 0 until onset, the listed points, reset to 0 after a spike
  const out = [];
  traces.forEach((period, k) => {
    period.forEach((arr, j) => {
      const pts = [[0, 0], [onsets[k], 0]].concat(pairs(arr));
      const last = pts[pts.length - 1];
      if (last[1] > 0.3) pts.push([last[0] + 0.004, 0]);
      out.push({ pts, k, j });
    });
  });
  return out;
}

const layerTraces = [
  null,
  tracesFrom(onsets2nd, traces2nd),
  tracesFrom(onsets3rd, traces3rd),
  tracesFrom(onsets18th, traces18th),
  tracesFrom(onsets19th, traces19th),
  tracesFrom(onsets20th, traces20th)
];

bTops.forEach((top, s) => {
  const by = d3.scaleLinear().domain([-0.5, 1.2]).range([top + bH, top]);
  const clipId = 'clipB' + s;
  defs.append('clipPath').attr('id', clipId).append('rect')
    .attr('x', bx(0)).attr('y', top).attr('width', bx(4) - bx(0)).attr('height', bH);
  const gp = svg.append('g').attr('clip-path', `url(#${clipId})`);

  // input windows
  bWindowStarts[s].forEach((w, k) => {
    gp.append('rect')
      .attr('x', bx(w)).attr('y', by(1))
      .attr('width', bx(w + bWindowWidth) - bx(w)).attr('height', by(-0.5) - by(1))
      .attr('fill', phaseColors[k]);
  });

  // grid
  bTicksX.slice(1, -1).forEach(t => {
    gp.append('line').attr('x1', bx(t)).attr('x2', bx(t)).attr('y1', top).attr('y2', top + bH)
      .attr('stroke', '#b4c6c6').attr('stroke-opacity', 0.5).attr('stroke-width', 3);
  });
  bTicksY.forEach(t => {
    gp.append('line').attr('x1', bx(0)).attr('x2', bx(4)).attr('y1', by(t)).attr('y2', by(t))
      .attr('stroke', '#b4c6c6').attr('stroke-opacity', 0.5).attr('stroke-width', 3);
  });

  // membrane traces
  const line = d3.line().x(d => bx(d[0])).y(d => by(d[1]));
  if (s === 0) {
    let n = 0;
    layer1Spikes.forEach((spikes, k) => {
      const w = bWindowStarts[0][k];
      spikes.forEach(t => {
        gp.append('path').datum([[w, 0], [t, 1], [t, 0]])
          .attr('d', line).attr('fill', 'none')
          .attr('stroke', traceColors[(n * 5 + k) % traceColors.length])
          .attr('stroke-width', 6).attr('stroke-opacity', periodOpacity[k])
          .attr('stroke-linejoin', 'round');
        n++;
      });
    });
    layer1Curves.forEach((arr, j) => {
      const pts = pairs(arr);
      const last = pts[pts.length - 1];
      pts.push([last[0] + 0.004, 0]);
      const k = bWindowStarts[0].filter(w => w <= pts[0][0] + 1e-6).length - 1;
      const col = [0, 4, 8, 10].includes(j) ? '#d6204e' :
        (j === 5 ? '#a8c61c' : (j === 6 ? '#44eec0' : (j === 7 ? '#8a8a8a' : traceColors[(j * 3 + 1) % traceColors.length])));
      gp.append('path').datum(pts)
        .attr('d', line).attr('fill', 'none')
        .attr('stroke', col).attr('stroke-width', 7)
        .attr('stroke-opacity', periodOpacity[k]).attr('stroke-linejoin', 'round');
    });
  } else {
    layerTraces[s].forEach(({ pts, k, j }) => {
      gp.append('path').datum(pts)
        .attr('d', line).attr('fill', 'none')
        .attr('stroke', traceColors[(j * 5 + k * 3 + s) % traceColors.length])
        .attr('stroke-width', 4.5).attr('stroke-opacity', periodOpacity[k])
        .attr('stroke-linejoin', 'round');
    });
  }

  // resting line at 0 drawn last
  gp.append('path').datum([[0, 0], [4, 0]])
    .attr('d', line).attr('fill', 'none')
    .attr('stroke', '#4df0bd').attr('stroke-width', 5.5).attr('stroke-opacity', 0.95);

  // spines
  svg.append('rect')
    .attr('x', bx(0)).attr('y', top).attr('width', bx(4) - bx(0)).attr('height', bH)
    .attr('fill', 'none').attr('stroke', '#000').attr('stroke-width', 4.5);

  // x axis
  const showX = (s === 2 || s === 5);
  const xa = svg.append('g').attr('transform', `translate(0,${top + bH})`)
    .call(d3.axisBottom(bx).tickValues(bTicksX).tickSize(16).tickPadding(18)
      .tickFormat(showX ? d3.format('d') : () => ''));
  xa.select('.domain').remove();
  xa.selectAll('line').attr('stroke', '#000').attr('stroke-width', 3.5);
  xa.selectAll('text').attr('font-size', 54).style('font-family', sansFont).attr('fill', '#000');

  // y axis
  const ya = svg.append('g').attr('transform', `translate(${bx(0)},0)`)
    .call(d3.axisLeft(by).tickValues(bTicksY).tickSize(14).tickPadding(20).tickFormat(d3.format('d')));
  ya.select('.domain').remove();
  ya.selectAll('line').attr('stroke', '#000').attr('stroke-width', 3.5);
  ya.selectAll('text').attr('font-size', 54).style('font-family', sansFont).attr('fill', '#000');

  // y label
  const lab = svg.append('text')
    .attr('transform', `translate(1955,${top + bH / 2}) rotate(-90)`)
    .attr('text-anchor', 'middle').attr('font-size', 62);
  lab.append('tspan').attr('x', 0).attr('y', 0).text('Vmem');
  lab.append('tspan').attr('x', 0).attr('y', 68).text(`(${bLayerNames[s]})`);
});

svg.append('text')
  .attr('x', (bx(0) + bx(4)) / 2).attr('y', 2062)
  .attr('text-anchor', 'middle').attr('font-size', 62).text('Time');
</script>
</body>
</html>
